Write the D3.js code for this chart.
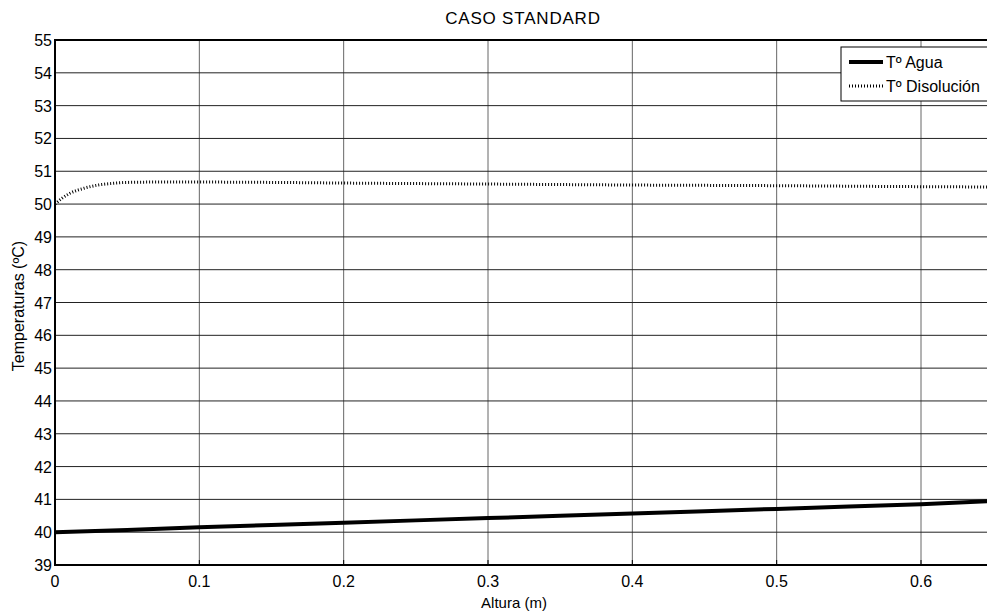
<!DOCTYPE html>
<html>
<head>
<meta charset="utf-8">
<script src="https://cdn.jsdelivr.net/npm/d3@7"></script>
<style>
  body { margin: 0; background: #fff; }
  svg { font-family: "Liberation Sans", Arial, sans-serif; }
</style>
</head>
<body>
<div id="chart"></div>
<script>
// data
var alturaAgua = [0, 0.05, 0.1, 0.15, 0.2, 0.25, 0.3, 0.35, 0.4, 0.45, 0.5, 0.55, 0.6, 0.65];
var tempAgua   = [40.0, 40.07, 40.15, 40.22, 40.29, 40.36, 40.43, 40.5, 40.57, 40.64, 40.71, 40.78, 40.85, 40.95];

var alturaDis = [0, 0.005, 0.01, 0.02, 0.03, 0.04, 0.05, 0.07, 0.1, 0.15, 0.2, 0.3, 0.4, 0.5, 0.6, 0.65];
var tempDis   = [50.0, 50.18, 50.32, 50.48, 50.58, 50.63, 50.66, 50.67, 50.67, 50.66, 50.64, 50.61, 50.58, 50.56, 50.53, 50.52];

var xTicks = [0, 0.1, 0.2, 0.3, 0.4, 0.5, 0.6];
var yTicks = d3.range(39, 56);
var seriesNames = ["T\u00ba Agua", "T\u00ba Disoluci\u00f3n"];

var width = 987, height = 614;
var margin = {left: 55, top: 40, bottom: 49};

var svg = d3.select("#chart").append("svg")
  .attr("width", width)
  .attr("height", height);

var x = d3.scaleLinear().domain([0, 0.6]).range([margin.left, 921]);
var y = d3.scaleLinear().domain([39, 55]).range([height - margin.bottom, margin.top]);
var xEnd = x(0.65);

var g = svg.append("g");

// grid
g.selectAll(".vgrid").data(xTicks.slice(1))
  .enter().append("line")
  .attr("x1", d => x(d)).attr("x2", d => x(d))
  .attr("y1", y(39)).attr("y2", y(55))
  .attr("stroke", "#666").attr("stroke-width", 1);

g.selectAll(".hgrid").data(yTicks.slice(1, -1))
  .enter().append("line")
  .attr("x1", x(0)).attr("x2", xEnd)
  .attr("y1", d => y(d)).attr("y2", d => y(d))
  .attr("stroke", "#222").attr("stroke-width", 1);

// small inward ticks
g.selectAll(".xt").data(xTicks)
  .enter().append("line")
  .attr("x1", d => x(d)).attr("x2", d => x(d))
  .attr("y1", y(39)).attr("y2", y(39) - 5)
  .attr("stroke", "#000");

// lines
var lineAgua = d3.line()
  .x((d, i) => x(alturaAgua[i]))
  .y(d => y(d));
var lineDis = d3.line()
  .x((d, i) => x(alturaDis[i]))
  .y(d => y(d))
  .curve(d3.curveMonotoneX);

g.append("path")
  .attr("d", lineAgua(tempAgua))
  .attr("fill", "none")
  .attr("stroke", "#000")
  .attr("stroke-width", 4);

g.append("path")
  .attr("d", lineDis(tempDis))
  .attr("fill", "none")
  .attr("stroke", "#000")
  .attr("stroke-width", 3)
  .attr("stroke-dasharray", "1,2");

// frame
g.append("rect")
  .attr("x", x(0)).attr("y", y(55))
  .attr("width", xEnd - x(0)).attr("height", y(39) - y(55))
  .attr("fill", "none").attr("stroke", "#000").attr("stroke-width", 2);

// tick labels
svg.selectAll(".ylab").data(yTicks)
  .enter().append("text")
  .attr("x", x(0) - 3)
  .attr("y", d => y(d) + 6)
  .attr("text-anchor", "end")
  .attr("font-size", 16)
  .text(d => d);

svg.selectAll(".xlab").data(xTicks)
  .enter().append("text")
  .attr("x", d => x(d))
  .attr("y", y(39) + 22)
  .attr("text-anchor", "middle")
  .attr("font-size", 16)
  .text(d => d);

// titles
svg.append("text")
  .attr("x", 523).attr("y", 24)
  .attr("text-anchor", "middle")
  .attr("font-size", 17)
  .attr("letter-spacing", 0.8)
  .text("CASO STANDARD");

svg.append("text")
  .attr("x", 514).attr("y", 608)
  .attr("text-anchor", "middle")
  .attr("font-size", 15)
  .text("Altura (m)");

svg.append("text")
  .attr("transform", "translate(24,306) rotate(-90)")
  .attr("text-anchor", "middle")
  .attr("font-size", 16)
  .text("Temperaturas (\u00baC)");

// legend
var leg = svg.append("g").attr("transform", "translate(841,47)");
leg.append("rect")
  .attr("width", 160).attr("height", 54)
  .attr("fill", "#fff").attr("stroke", "#000").attr("stroke-width", 1);

leg.selectAll(".ll").data(seriesNames)
  .enter().append("line")
  .attr("x1", 8).attr("x2", 42)
  .attr("y1", (d, i) => 15 + i * 24).attr("y2", (d, i) => 15 + i * 24)
  .attr("stroke", "#000")
  .attr("stroke-width", (d, i) => i == 0 ? 4 : 3)
  .attr("stroke-dasharray", (d, i) => i == 0 ? null : "1,2");

leg.selectAll(".lt").data(seriesNames)
  .enter().append("text")
  .attr("x", 45)
  .attr("y", (d, i) => 21 + i * 24)
  .attr("font-size", 16)
  .text(d => d);
</script>
</body>
</html>
